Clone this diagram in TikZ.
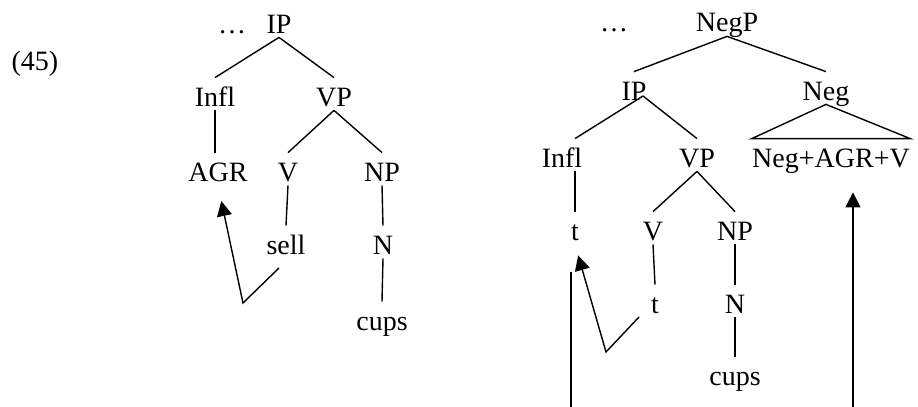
\documentclass[tikz,border=0pt]{standalone}
\usepackage{fontspec}
\setmainfont{Liberation Serif}
\usetikzlibrary{arrows.meta}
\begin{document}
\begin{tikzpicture}
    [%%%%%%%%%%%%%%%%%%%%%%%%%%%%%%
        x=0.5pt, y=-0.5pt,
        cat/.style={anchor=base, inner xsep=0pt, inner ysep=2pt, text height=12pt, text depth=0pt, font=\fontsize{14pt}{17pt}\selectfont},
        branch/.style={line width=0.7pt},
        movearrow/.style={line width=0.7pt, -{Triangle[length=7.5pt,width=7.5pt]}},
    ]%%%%%%%%%%%%%%%%%%%%%%%%%%%%%%
\useasboundingbox (0,0) rectangle (918,407);

\node[cat] (exnum) at (35,70) {(45)};

% left tree
\node[cat] (dotsL) at (232,33) {…};
\node[cat] (ipL) at (279,33) {IP};
\node[cat] (inflL) at (215,106) {Infl};
\node[cat] (vpL) at (334,106) {VP};
\node[cat] (agr) at (218,181) {AGR};
\node[cat] (vL) at (288,181) {V};
\node[cat] (npL) at (382,181) {NP};
\node[cat] (sell) at (286,254) {sell};
\node[cat] (nL) at (383,254) {N};
\node[cat] (cupsL) at (382,330) {cups};

\draw[branch] (ipL.south) -- (inflL.north);
\draw[branch] (ipL.south) -- (vpL.north);
\draw[branch] (inflL.south) -- (inflL.south |- agr.north);
\draw[branch] (vpL.south) -- (vL.north);
\draw[branch] (vpL.south) -- (npL.north);
\draw[branch] (vL.south) -- (sell.north);
\draw[branch] (npL.south) -- (nL.north);
\draw[branch] (nL.south) -- (cupsL.north);

\coordinate (sellFoot) at (279,268);
\coordinate (bendL) at (243,303);
\draw[movearrow, shorten >=8pt] (sellFoot) -- (bendL) -- (agr.south);

% right tree
\node[cat] (dotsR) at (614,32) {…};
\node[cat] (negp) at (727,32) {NegP};
\node[cat] (ipR) at (634,100) {IP};
\node[cat] (negR) at (826,100) {Neg};
\node[cat] (inflR) at (562,167) {Infl};
\node[cat] (vpR) at (697,167) {VP};
\node[cat] (nagv) at (831,167) {Neg+AGR+V};
\node[cat] (tInfl) at (575,240) {t};
\node[cat] (vR) at (653,240) {V};
\node[cat] (npR) at (735,240) {NP};
\node[cat] (tV) at (655,313) {t};
\node[cat] (nR) at (735,313) {N};
\node[cat] (cupsR) at (735,385) {cups};

\coordinate (ipRjoin) at ([shift={(9,-4)}]ipR.base);

\draw[branch] (negp.south) -- (ipR.north);
\draw[branch] (negp.south) -- (negR.north);
\draw[branch] (ipRjoin) -- (inflR.north -| tInfl);
\draw[branch] (ipRjoin) -- (vpR.north);
\draw[branch] (negR.south) -- (nagv.north west) -- (nagv.north east) -- cycle;
\draw[branch] (tInfl.north |- inflR.south) -- (tInfl.north);
\draw[branch] (vpR.south) -- (vR.north);
\draw[branch] (vpR.south) -- (npR.north);
\draw[branch] (vR.south) -- (tV.north);
\draw[branch] (npR.south) -- (nR.north);
\draw[branch] (nR.south) -- (cupsR.north);

\coordinate (tFoot) at (639,317);
\coordinate (bendR) at (606,352);
\draw[movearrow, shorten >=5.7pt] (tFoot) -- (bendR) -- (tInfl.south);

\coordinate (traceTop) at (571,272);
\coordinate (traceBottom) at (571,407);
\draw[branch] (traceTop) -- (traceBottom);

\coordinate (negBottom) at (853,407);
\draw[movearrow, shorten >=10.5pt] (negBottom) -- (negBottom |- nagv.south);

\end{tikzpicture}
\end{document}
